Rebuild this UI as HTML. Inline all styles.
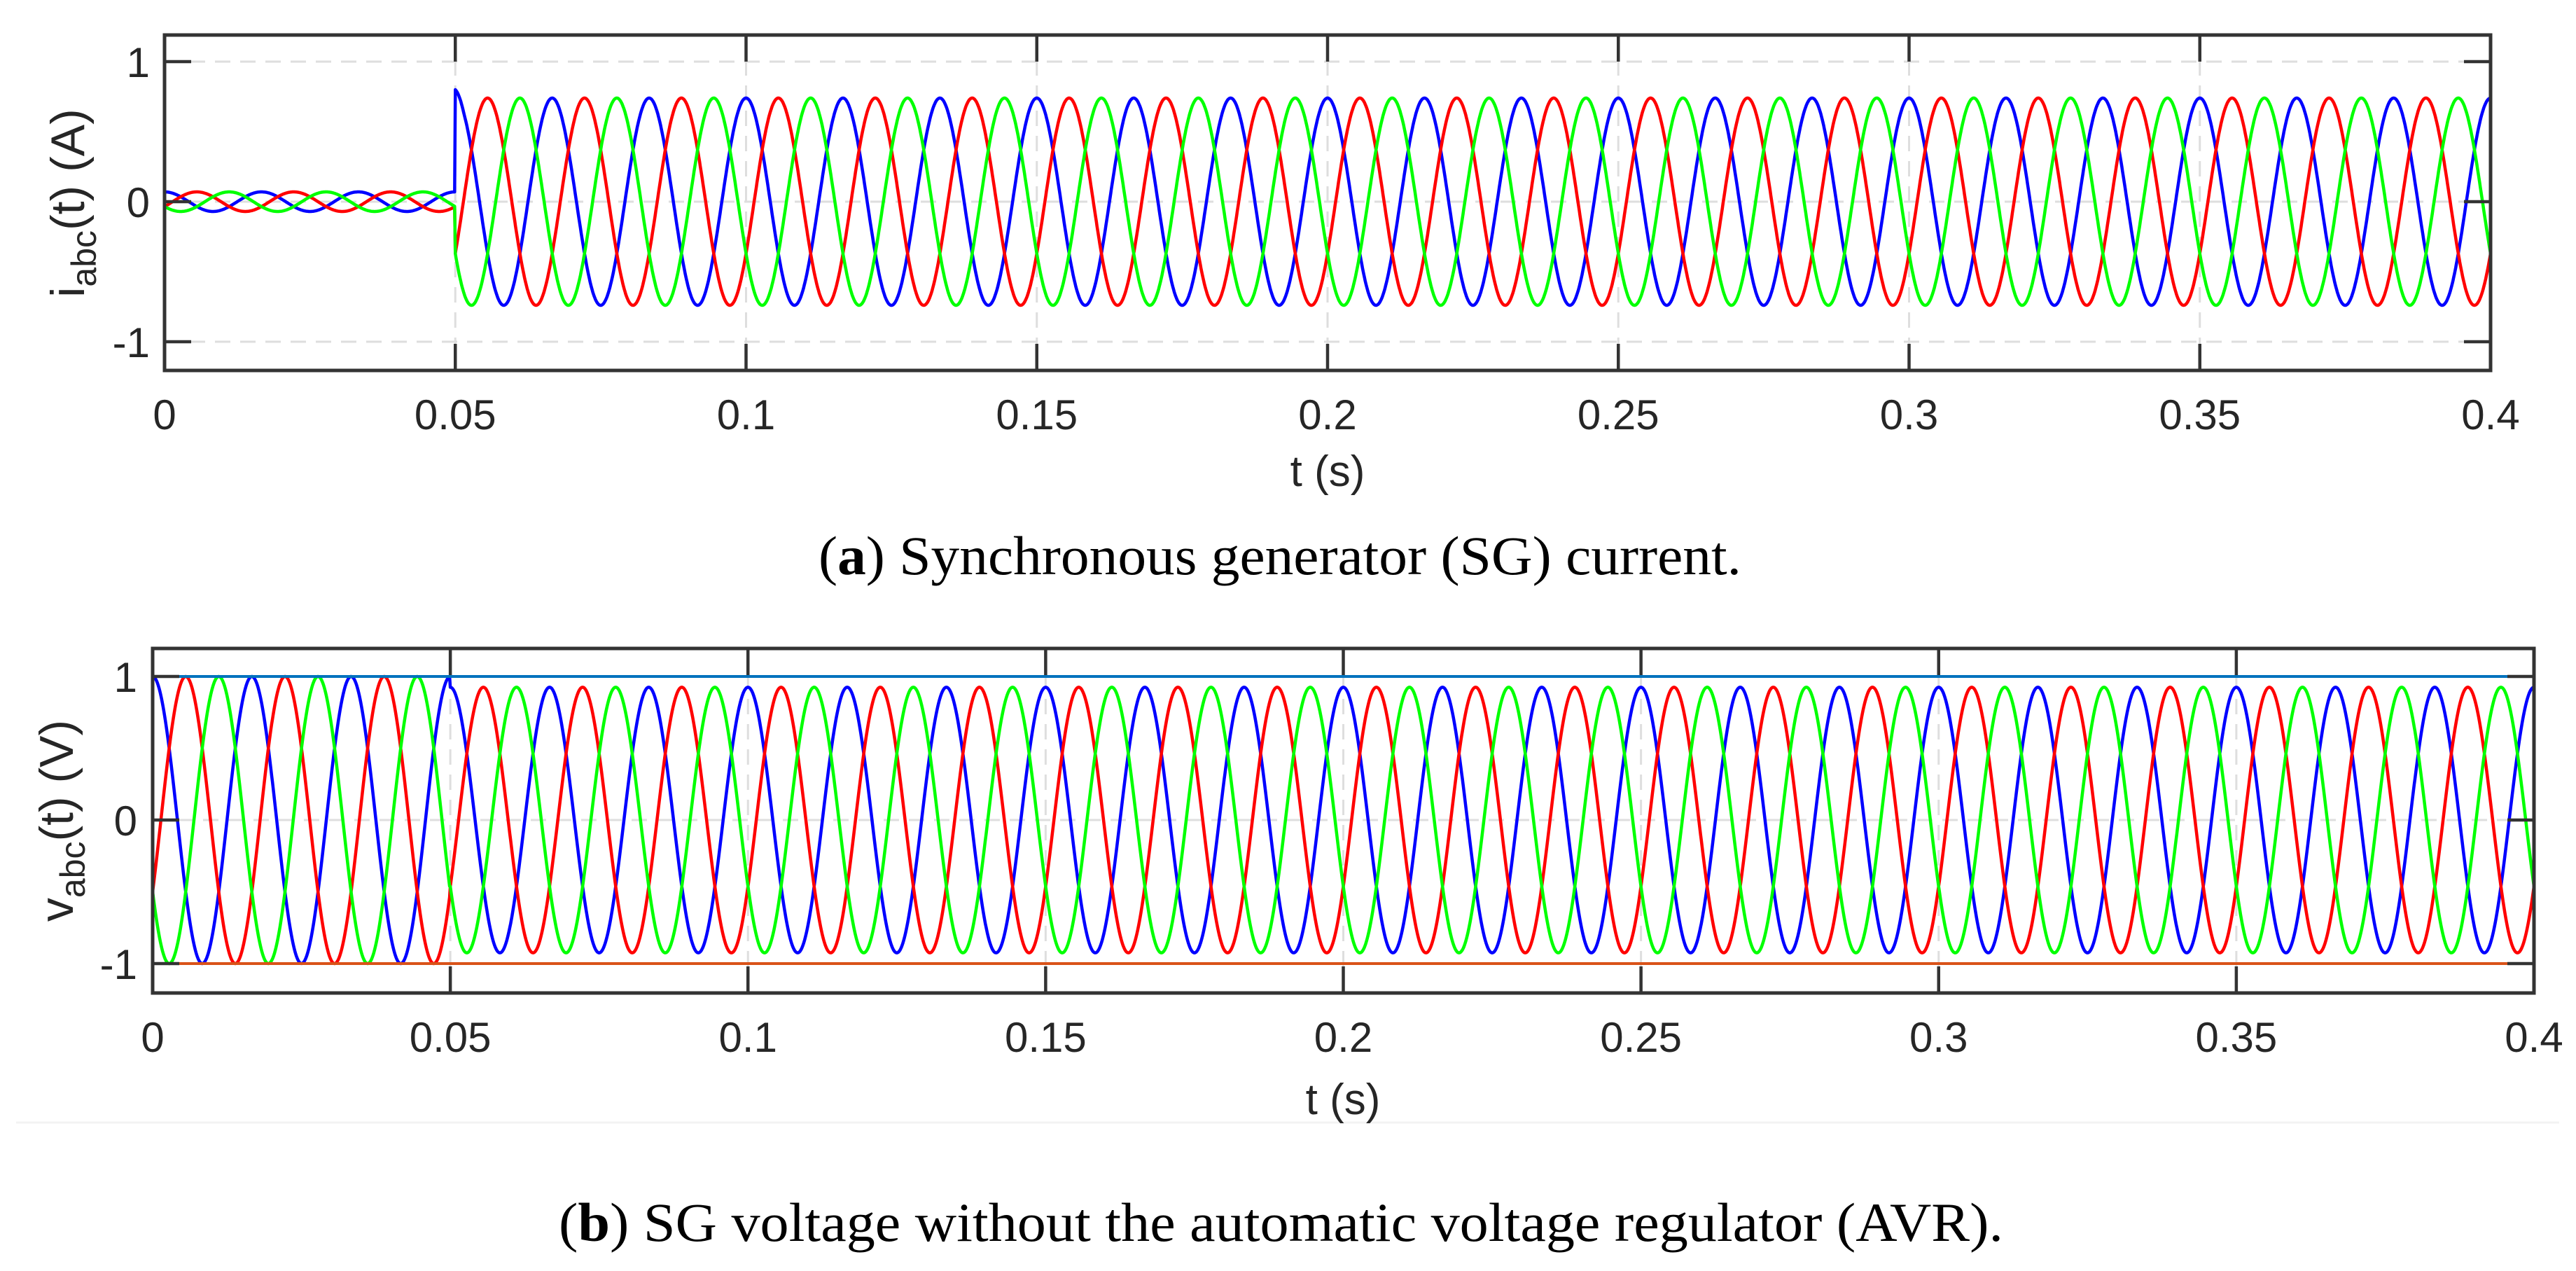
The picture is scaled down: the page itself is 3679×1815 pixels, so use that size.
<!DOCTYPE html>
<html><head><meta charset="utf-8"><style>
html,body{margin:0;padding:0;background:#fff;}
svg{display:block;}
</style></head><body>
<svg id="s" xmlns="http://www.w3.org/2000/svg" width="3679" height="1815" viewBox="0 0 3679 1815">
<rect width="3679" height="1815" fill="#fff"/>
<line x1="23" y1="1603" x2="3655" y2="1603" stroke="#f3f3f3" stroke-width="3"/>
<g id="pa"></g>
<g id="pb"></g>
<g font-family="'Liberation Sans',sans-serif" fill="#262626" font-size="62">
<text x="1896" y="694" text-anchor="middle">t (s)</text>
<text x="1918" y="1591" text-anchor="middle">t (s)</text>
<text transform="translate(120,290) rotate(-90)" text-anchor="middle" font-size="68">i<tspan font-size="50" dy="17">abc</tspan><tspan dy="-17">(t) (A)</tspan></text>
<text transform="translate(104,1172) rotate(-90)" text-anchor="middle" font-size="68">v<tspan font-size="50" dy="17">abc</tspan><tspan dy="-17">(t) (V)</tspan></text>
</g>
<g font-family="'Liberation Serif',serif" fill="#000" font-size="78">
<text x="1169" y="820" textLength="1318" lengthAdjust="spacingAndGlyphs">(<tspan font-weight="bold">a</tspan>) Synchronous generator (SG) current.</text>
<text x="798" y="1772" textLength="2063" lengthAdjust="spacingAndGlyphs">(<tspan font-weight="bold">b</tspan>) SG voltage without the automatic voltage regulator (AVR).</text>
</g>
</svg>
<script>
(function(){
var NS="http://www.w3.org/2000/svg";
function el(p,n,a){var e=document.createElementNS(NS,n);for(var k in a)e.setAttribute(k,a[k]);p.appendChild(e);return e;}
function plot(gid,L,T,R,B,yp1,y0,ym1,ticklx,fn,extra){
 var g=document.getElementById(gid);
 var sx=function(t){return L+(R-L)*t/0.4;};
 var sy=function(v){return y0-(y0-yp1)*v;};
 for(var i=1;i<8;i++){var x=sx(i*0.05);el(g,"line",{x1:x,y1:T,x2:x,y2:B,stroke:"#dedede","stroke-width":3,"stroke-dasharray":"22 14"});}
 [1,0,-1].forEach(function(v){var y=sy(v);el(g,"line",{x1:L,y1:y,x2:R,y2:y,stroke:"#dedede","stroke-width":3,"stroke-dasharray":"22 14"});});
 var w=2*Math.PI*60, ph=[0,-2*Math.PI/3,2*Math.PI/3], col=["#0000ff","#ff0000","#00ff00"];
 [0,1,2].forEach(function(k){
  var pts=[];var N=3400;
  for(var n=0;n<=N;n++){var t=0.4*n/N;pts.push(sx(t).toFixed(1)+","+sy(fn(t,w,ph[k],k)).toFixed(1));}
  el(g,"polyline",{points:pts.join(" "),fill:"none",stroke:col[k],"stroke-width":4.5,"stroke-linejoin":"round"});
 });
 if(extra)extra(g,sx,sy);
 for(var i=0;i<=8;i++){var x=sx(i*0.05);
  el(g,"line",{x1:x,y1:B,x2:x,y2:B-38,stroke:"#333","stroke-width":4.5});
  el(g,"line",{x1:x,y1:T,x2:x,y2:T+38,stroke:"#333","stroke-width":4.5});
  var lab=(i==0?"0":(i*0.05).toFixed(2).replace(/0$/,""));
  var tx=el(g,"text",{x:x,y:B+84,"text-anchor":"middle","font-family":"'Liberation Sans',sans-serif","font-size":60,fill:"#262626"});tx.textContent=lab;}
 [1,0,-1].forEach(function(v){var y=sy(v);
  el(g,"line",{x1:L,y1:y,x2:L+38,y2:y,stroke:"#333","stroke-width":4.5});
  el(g,"line",{x1:R,y1:y,x2:R-38,y2:y,stroke:"#333","stroke-width":4.5});
  var tx=el(g,"text",{x:ticklx,y:y+22,"text-anchor":"end","font-family":"'Liberation Sans',sans-serif","font-size":60,fill:"#262626"});tx.textContent=String(v);});
 el(g,"rect",{x:L,y:T,width:R-L,height:B-T,fill:"none",stroke:"#333","stroke-width":5});
}
plot("pa",235,50,3557,529,88,288,488,214,function(t,w,p,k){
 if(t<0.05){return 0.07*Math.cos(w*t+p);}
 var v=0.74*Math.cos(w*t+p);
 if(k==0&&t<0.0515){v+=0.06*(1-(t-0.05)/0.0015);}
 return v;
});
plot("pb",218,926,3619,1418,966,1171,1377,196,function(t,w,p,k){
 var a=t<0.05?1:0.925;return a*Math.cos(w*t+p);
},function(g,sx,sy){
 el(g,"line",{x1:sx(0),y1:sy(1),x2:sx(0.4),y2:sy(1),stroke:"#0072BD","stroke-width":4});
 el(g,"line",{x1:sx(0),y1:sy(-1),x2:sx(0.4),y2:sy(-1),stroke:"#D95319","stroke-width":4});
});
})();
</script>
</body></html>
